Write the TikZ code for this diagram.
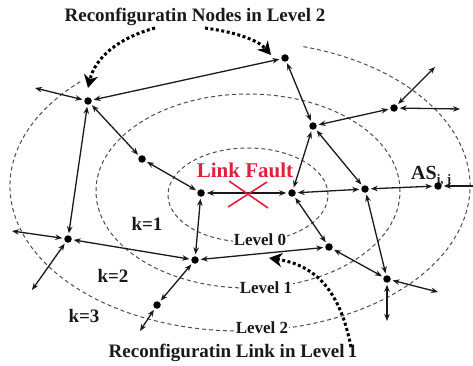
\documentclass[tikz,border=0pt]{standalone}
\usepackage{fontspec}
\setmainfont{Liberation Serif}
\usetikzlibrary{arrows.meta}
\definecolor{faultred}{RGB}{225,30,60}
\definecolor{inkblack}{RGB}{25,25,25}
\begin{document}
\begin{tikzpicture}[x=1pt,y=-1pt,
  dot/.style={circle,fill=black,inner sep=0pt,minimum size=7.5pt,outer sep=2pt},
  link/.style={line width=1.3pt,draw=inkblack,{Stealth[length=7pt,width=5.5pt]}-{Stealth[length=7pt,width=5.5pt]}},
  onelink/.style={line width=1.3pt,draw=inkblack,-{Stealth[length=7pt,width=5.5pt]}},
  level/.style={dash pattern=on 4pt off 3pt, line width=1pt, draw=black!70},
  hint/.style={line width=3pt, dash pattern=on 3pt off 2.5pt, -{Stealth[length=13pt,width=14pt,inset=4pt]}},
  lbl/.style={font=\bfseries\fontsize{19}{20}\selectfont, text=inkblack, inner sep=0pt, anchor=base},
  lvl/.style={font=\bfseries\fontsize{17}{18}\selectfont, text=inkblack, fill=white, inner sep=1pt, anchor=base},
]
\useasboundingbox (0,0) rectangle (473,366);

% levels
\draw[level] (248,195) ellipse [x radius=80pt, y radius=47pt];
\draw[level] (248,191) ellipse [x radius=152pt, y radius=97pt];
\draw[level] (240,186) ++(74:230pt and 145pt) arc [start angle=74, end angle=-226, x radius=230pt, y radius=145pt];

\node[lvl] (l0) at (260,245) {Level 0};
\node[lvl] (l1) at (266,293) {Level 1};
\node[lvl] (l2) at (262,333) {Level 2};

% nodes
\node[dot] (n1) at (88,101) {};
\node[dot] (n2) at (285,58) {};
\node[dot] (n3) at (142,159) {};
\node[dot] (n4) at (201,193) {};
\node[dot] (n5) at (292,193) {};
\node[dot] (n6) at (313,126) {};
\node[dot] (n7) at (394,108) {};
\node[dot] (n8) at (365,189) {};
\node[dot] (n9) at (438,186) {};
\node[dot] (n10) at (68,239) {};
\node[dot] (n11) at (195,260) {};
\node[dot] (n12) at (329,247) {};
\node[dot] (n13) at (387,279) {};
\node[dot] (n14) at (157,305) {};

\coordinate (f1) at (35,88);
\coordinate (f2) at (435,67);
\coordinate (f3) at (460,109);
\coordinate (f4) at (474,186);
\coordinate (f5) at (12,231);
\coordinate (f6) at (32,290);
\coordinate (f7) at (140,331);
\coordinate (f8) at (387,321);
\coordinate (f9) at (438,292);

% links
\draw[link] (n1) -- (n2);
\draw[link] (n1) -- (f1);
\draw[link] (n1) -- (n3);
\draw[link] (n1) -- (n10);
\draw[link] (n3) -- (n4);
\draw[link] (n4) -- (n5);
\draw[link] (n5) -- (n6);
\draw[link] (n5) -- (n8);
\draw[link] (n2) -- (n6);
\draw[link] (n6) -- (n7);
\draw[link] (n7) -- (f2);
\draw[link] (n7) -- (f3);
\draw[link] (n6) -- (n8);
\draw[link] (n8) -- (n9);
\draw[onelink] (f4) -- (n9);
\draw[link] (n4) -- (n11);
\draw[link] (n10) -- (n11);
\draw[link] (n10) -- (f5);
\draw[link] (n10) -- (f6);
\draw[link] (n11) -- (n12);
\draw[link] (n5) -- (n12);
\draw[link] (n12) -- (n13);
\draw[link] (n8) -- (n13);
\draw[link] (n13) -- (f8);
\draw[link] (n13) -- (f9);
\draw[link] (n11) -- (n14);
\draw[link] (n14) -- (f7);

% fault
\coordinate (x1) at (229,181);
\coordinate (x2) at (268,208);
\coordinate (x3) at (267,182);
\coordinate (x4) at (228,207);
\draw[faultred, line width=1.6pt] (x1) -- (x2);
\draw[faultred, line width=1.6pt] (x3) -- (x4);
\node[lbl, text=faultred, font=\bfseries\fontsize{21}{22}\selectfont] (fault) at (245,177) {Link Fault};

% texts
\node[lbl] (top) at (195,22) {Reconfiguratin Nodes in Level 2};
\node[lbl] (bottom) at (233,357) {Reconfiguratin Link in Level\,1};
\node[lbl] (k1) at (147,230) {k=1};
\node[lbl] (k2) at (113,282) {k=2};
\node[lbl] (k3) at (84,322) {k=3};
\node[lbl, anchor=base west, font=\bfseries\fontsize{20}{21}\selectfont] (as) at (411,179) {AS\raisebox{-4pt}{\fontsize{13}{13}\selectfont i, j}};

% hints
\coordinate (h1s) at (155,28);
\coordinate (h1e) at (88,88);
\coordinate (h2s) at (205,28);
\coordinate (h2e) at (271,55);
\coordinate (h3s) at (351,347);
\coordinate (h3e) at (269,258);
\draw[hint] (h1s) .. controls (118,38) and (95,58) .. (h1e);
\draw[hint] (h2s) .. controls (235,32) and (258,40) .. (h2e);
\draw[hint] (h3s) .. controls (340,290) and (315,265) .. (h3e);
\end{tikzpicture}
\end{document}
